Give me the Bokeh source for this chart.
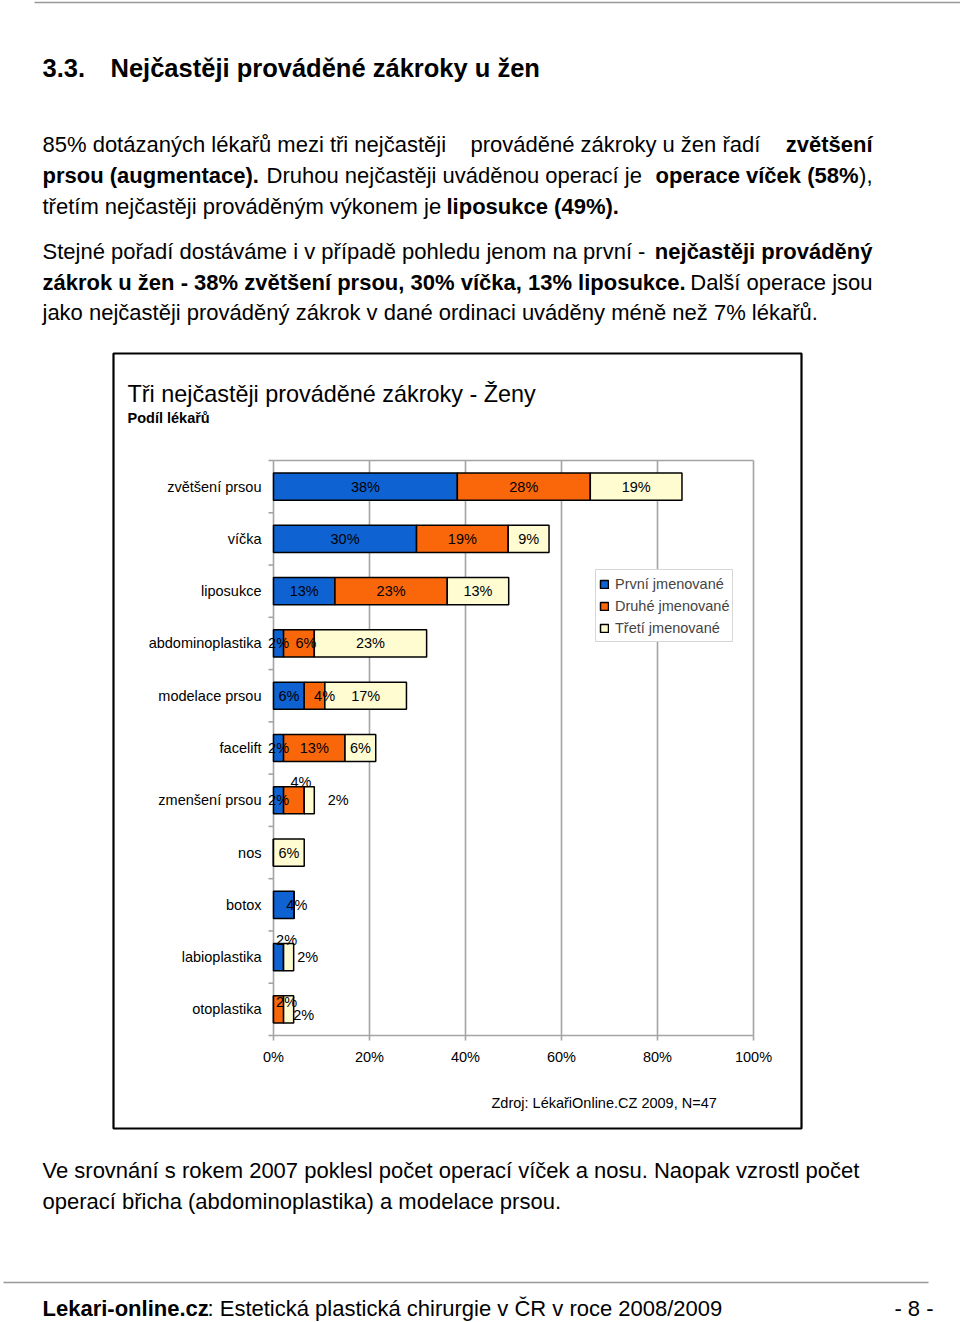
import math
from bokeh.plotting import figure
from bokeh.models import Range1d, ColumnDataSource
from bokeh.core.properties import value
from bokeh.embed import file_html
from bokeh.resources import INLINE

# ---------------- data ----------------
categories = ["zvětšení prsou", "víčka", "liposukce", "abdominoplastika",
              "modelace prsou", "facelift", "zmenšení prsou", "nos", "botox",
              "labioplastika", "otoplastika"]
first = [38.3, 29.8, 12.8, 2.1, 6.4, 2.1, 2.1, 0.0, 4.3, 2.1, 0.0]
second = [27.7, 19.1, 23.4, 6.4, 4.3, 12.8, 4.3, 0.0, 0.0, 0.0, 2.1]
third = [19.1, 8.5, 12.8, 23.4, 17.0, 6.4, 2.1, 6.4, 0.0, 2.1, 2.1]
series_names = ["První jmenované", "Druhé jmenované", "Třetí jmenované"]
x_ticks = [0, 20, 40, 60, 80, 100]

# ---------------- style / layout ----------------
FONT = "Liberation Sans"
COLORS = ["#0f62d2", "#f9670a", "#fffcd2"]
GRID = "#a4a4a4"
# page-pixel layout of the chart's plot area
X0, X100 = 273.0, 753.0
YTOP, YBOT = 460.0, 1035.0
# manual nudges of some value labels (px), keyed by (category index, series index)
LABEL_NUDGE = {(3, 1): (7, 0), (4, 1): (10, 0), (6, 1): (7, -18), (6, 2): (29, 0),
               (8, 0): (13, 0), (9, 0): (8, -17), (9, 2): (19, 0),
               (10, 1): (8, -7), (10, 2): (15, 6)}

W, H = 960, 1322
p = figure(width=W, height=H, x_range=Range1d(0, W), y_range=Range1d(H, 0),
           x_axis_type=None, y_axis_type=None, min_border=0,
           min_border_left=0, min_border_right=0, min_border_top=0, min_border_bottom=0,
           toolbar_location=None, output_backend="svg",
           background_fill_color="white", border_fill_color="white",
           outline_line_color=None)

n = len(categories)
kx = (X100 - X0) / 100.0
band = (YBOT - YTOP) / n
p.extra_x_ranges = {"pct": Range1d((0 - X0) / kx, (W - X0) / kx)}
p.extra_y_ranges = {"cat": Range1d((H - YTOP) / band - 0.5, (0 - YTOP) / band - 0.5)}
R = dict(x_range_name="pct", y_range_name="cat")


def txt(x, y, s, size, bold=False, align="left", color="black"):
    p.text(x=[x], y=[y], text=[s], text_font=value(FONT),
           text_font_size=value(f"{size}px"),
           text_font_style="bold" if bold else "normal",
           text_align=align, text_baseline="middle", text_color=color)


# ---------------- page text ----------------
BODY = 22
p.segment(x0=[34], y0=[2], x1=[960], y1=[2], line_color="#999999", line_width=1.5)
txt(42, 67, "3.3.", 25.5, True)
txt(110, 67, "Nejčastěji prováděné zákroky u žen", 25.5, True)

txt(42, 144, "85% dotázaných lékařů mezi tři nejčastěji", BODY)
txt(470, 144, "prováděné zákroky u žen řadí", BODY)
txt(872, 144, "zvětšení", BODY, True, "right")
txt(42, 175, "prsou (augmentace).", BODY, True)
txt(266, 175, "Druhou nejčastěji uváděnou operací je", BODY)
txt(655, 175, "operace víček (58%", BODY, True)
txt(872, 175, "),", BODY, False, "right")
txt(42, 206, "třetím nejčastěji prováděným výkonem je", BODY)
txt(446, 206, "liposukce (49%).", BODY, True)

txt(42, 251, "Stejné pořadí dostáváme i v případě pohledu jenom na první -", BODY)
txt(872, 251, "nejčastěji prováděný", BODY, True, "right")
txt(42, 282, "zákrok u žen - 38% zvětšení prsou, 30% víčka, 13% liposukce.", BODY, True)
txt(872, 282, "Další operace jsou", BODY, False, "right")
txt(42, 312, "jako nejčastěji prováděný zákrok v dané ordinaci uváděny méně než 7% lékařů.", BODY)

txt(42, 1170, "Ve srovnání s rokem 2007 poklesl počet operací víček a nosu. Naopak vzrostl počet", BODY)
txt(42, 1201, "operací břicha (abdominoplastika) a modelace prsou.", BODY)

p.segment(x0=[3], y0=[1282], x1=[928], y1=[1282], line_color="#999999", line_width=1.5)
txt(42, 1308, "Lekari-online.cz", BODY, True)
txt(207, 1308, ": Estetická plastická chirurgie v ČR v roce 2008/2009", BODY)
txt(933, 1308, "- 8 -", BODY, False, "right")

# chart frame box
p.quad(left=[113], right=[801], top=[353], bottom=[1128], fill_color=None,
       line_color="black", line_width=2.2)
txt(127, 393, "Tři nejčastěji prováděné zákroky - Ženy", 23.4)
txt(127, 417, "Podíl lékařů", 14.5, True)
txt(491, 1102, "Zdroj:  LékařiOnline.CZ 2009, N=47", 14.5)

# ---------------- chart ----------------
idx = list(range(n))
top_b, bot_b = -0.5, n - 0.5
tick_px = 5.0
# vertical grid (20..100) and top border
p.segment(x0=x_ticks[1:], y0=[top_b] * 5, x1=x_ticks[1:], y1=[bot_b] * 5,
          line_color=GRID, line_width=1.6, **R)
p.segment(x0=[0], y0=[top_b], x1=[100], y1=[top_b], line_color=GRID, line_width=1.6, **R)
# axes lines
p.segment(x0=[0], y0=[top_b], x1=[0], y1=[bot_b], line_color=GRID, line_width=1.6, **R)
p.segment(x0=[0], y0=[bot_b], x1=[100], y1=[bot_b], line_color=GRID, line_width=1.6, **R)
# x ticks (downward)
p.segment(x0=x_ticks, y0=[bot_b] * len(x_ticks), x1=x_ticks,
          y1=[bot_b + tick_px / band] * len(x_ticks), line_color=GRID, line_width=1.6, **R)
# y ticks at category boundaries (leftward)
bounds = [i - 0.5 for i in range(n + 1)]
p.segment(x0=[0] * len(bounds), y0=bounds, x1=[-tick_px / kx] * len(bounds), y1=bounds,
          line_color=GRID, line_width=1.6, **R)

# tick labels
p.text(x=x_ticks, y=[bot_b] * len(x_ticks), text=[f"{t}%" for t in x_ticks],
       y_offset=21, text_align="center", text_baseline="middle",
       text_font=value(FONT), text_font_size=value("14.5px"), text_color="black", **R)
p.text(x=[0] * n, y=idx, text=categories, x_offset=-12, text_align="right",
       text_baseline="middle", text_font=value(FONT), text_font_size=value("14.5px"),
       text_color="black", **R)

# bars
src = ColumnDataSource(dict(idx=idx, first=first, second=second, third=third))
p.hbar_stack(["first", "second", "third"], y="idx", height=0.52, source=src,
             fill_color=COLORS, line_color="black", line_width=1.5,
             legend_label=series_names, **R)

# value labels
lx, ly, lt, ox, oy = [], [], [], [], []
for i in range(n):
    left = 0.0
    for s, vals in enumerate([first, second, third]):
        v = vals[i]
        if v > 0:
            dx, dy = LABEL_NUDGE.get((i, s), (0, 0))
            lx.append(left + v / 2)
            ly.append(i)
            lt.append(f"{int(math.floor(v + 0.5))}%")
            ox.append(dx)
            oy.append(dy)
        left += v
p.text(x=lx, y=ly, text=lt, x_offset=ox, y_offset=oy, text_align="center",
       text_baseline="middle", text_font=value(FONT), text_font_size=value("14.5px"),
       text_color="black", **R)

# legend
lg = p.legend[0]
lg.location = (595, H - 642)
lg.label_text_font = FONT
lg.label_text_font_size = "14.5px"
lg.glyph_width = 10
lg.glyph_height = 10
lg.label_height = 21
lg.label_standoff = 6
lg.spacing = 1
lg.padding = 3
lg.margin = 0
lg.border_line_color = "#b0b0b0"
lg.border_line_width = 1
lg.background_fill_color = "white"
lg.background_fill_alpha = 1.0

open("out.html", "w").write(file_html(p, INLINE))
